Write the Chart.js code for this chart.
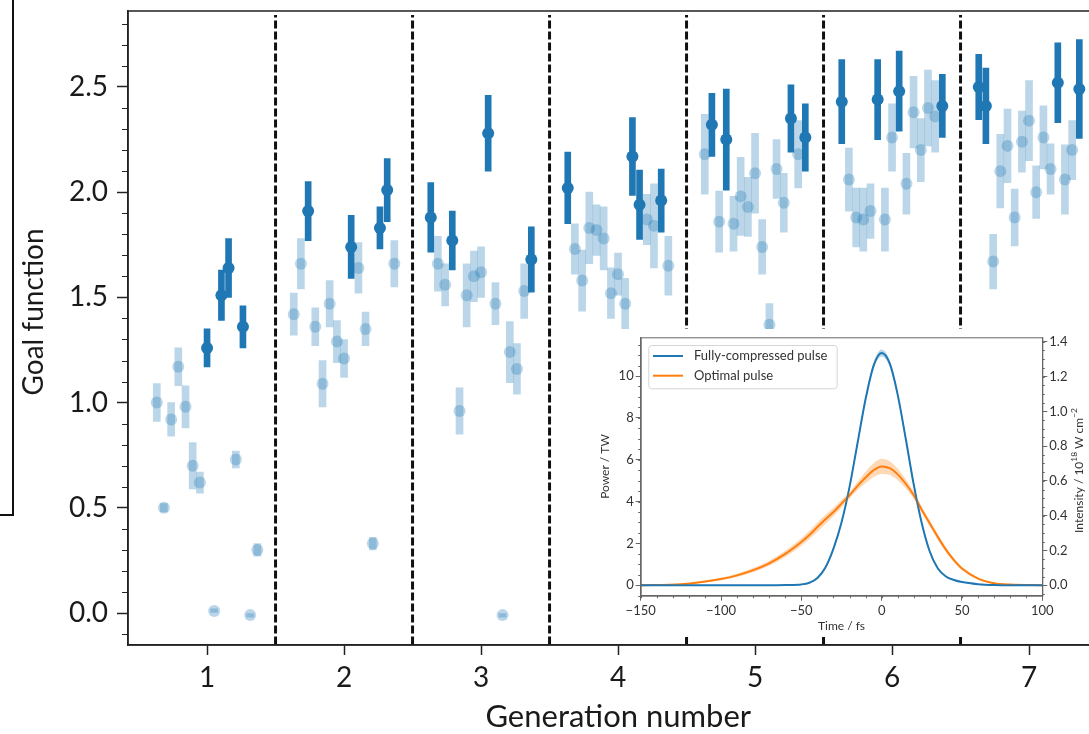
<!DOCTYPE html>
<html>
<head>
<meta charset="utf-8">
<title>Goal function per generation</title>
<script src="https://cdn.jsdelivr.net/npm/chart.js@4"></script>
<style>
  html, body { margin: 0; padding: 0; background: #fff; overflow: hidden; }
  #wrap { position: relative; width: 1089px; height: 734px; overflow: hidden; }
  #main { position: absolute; left: 0; top: 0; }
  #inset { position: absolute; left: 590px; top: 329px; background: #fff; }
  .frag-v { position: absolute; left: 12px; top: 0; width: 2px; height: 516px; background: #111; }
  .frag-h { position: absolute; left: 0; top: 514px; width: 14px; height: 2px; background: #111; }
</style>
</head>
<body>
<div id="wrap">
  <div class="frag-v"></div>
  <div class="frag-h"></div>
  <canvas id="main" width="1120" height="734"></canvas>
  <canvas id="inset" width="499" height="308"></canvas>
</div>
<script>
const BLUE = "#1f77b4";
const ORANGE = "#ff7f0e";
const LIGHT = "rgba(31,119,180,0.3)";
const TEXT = "#1a1a1a";

// main panel
const GENERATIONS = [1, 2, 3, 4, 5, 6, 7];
const OFFSETS = [-0.367, -0.315, -0.262, -0.21, -0.157, -0.105, -0.052, 0, 0.052, 0.105, 0.157, 0.21, 0.262, 0.315, 0.367];
const DIVIDERS = [1.5, 2.5, 3.5, 4.5, 5.5, 6.5];
const X_TICKS = [1, 2, 3, 4, 5, 6, 7];
const Y_TICKS = [0, 0.5, 1, 1.5, 2, 2.5];

const GOAL_G1 = [1.00, 0.50, 0.92, 1.17, 0.98, 0.70, 0.62, 1.26, 0.01, 1.51, 1.64, 0.73, 1.36, -0.01, 0.30];
const GOAL_G2 = [1.42, 1.66, 1.91, 1.36, 1.09, 1.47, 1.29, 1.21, 1.74, 1.64, 1.35, 0.33, 1.83, 2.01, 1.66];
const GOAL_G3 = [1.88, 1.66, 1.56, 1.77, 0.96, 1.51, 1.60, 1.62, 2.28, 1.47, -0.01, 1.24, 1.16, 1.53, 1.68];
const GOAL_G4 = [2.02, 1.73, 1.58, 1.83, 1.82, 1.78, 1.52, 1.61, 1.47, 2.17, 1.94, 1.87, 1.84, 1.96, 1.65];
const GOAL_G5 = [2.18, 2.32, 1.86, 2.25, 1.85, 1.98, 1.93, 2.09, 1.74, 1.37, 2.11, 1.95, 2.35, 2.18, 2.26];
const GOAL_G6 = [2.43, 2.06, 1.88, 1.87, 1.91, 2.44, 1.87, 2.26, 2.48, 2.04, 2.38, 2.20, 2.40, 2.36, 2.41];
const GOAL_G7 = [2.50, 2.41, 1.67, 2.10, 2.22, 1.88, 2.24, 2.34, 2.00, 2.26, 2.11, 2.52, 2.06, 2.20, 2.49];

const ERR_G1 = [0.09, 0.02, 0.08, 0.09, 0.10, 0.11, 0.05, 0.09, 0.01, 0.12, 0.14, 0.04, 0.10, 0.01, 0.03];
const ERR_G2 = [0.10, 0.12, 0.14, 0.09, 0.11, 0.11, 0.10, 0.09, 0.15, 0.12, 0.08, 0.03, 0.10, 0.15, 0.11];
const ERR_G3 = [0.165, 0.13, 0.10, 0.14, 0.11, 0.15, 0.12, 0.12, 0.18, 0.10, 0.01, 0.145, 0.12, 0.13, 0.155];
const ERR_G4 = [0.17, 0.12, 0.145, 0.17, 0.12, 0.15, 0.12, 0.10, 0.12, 0.185, 0.165, 0.12, 0.20, 0.15, 0.14];
const ERR_G5 = [0.19, 0.15, 0.145, 0.24, 0.13, 0.185, 0.14, 0.19, 0.13, 0.10, 0.14, 0.14, 0.16, 0.16, 0.16];
const ERR_G6 = [0.20, 0.15, 0.14, 0.15, 0.13, 0.19, 0.15, 0.16, 0.19, 0.145, 0.17, 0.15, 0.18, 0.17, 0.15];
const ERR_G7 = [0.155, 0.18, 0.13, 0.175, 0.175, 0.135, 0.145, 0.19, 0.125, 0.15, 0.12, 0.19, 0.165, 0.14, 0.235];

// individuals drawn in the dark colour (best of each generation)
const BEST_G1 = [7, 9, 10, 12];
const BEST_G2 = [2, 8, 12, 13];
const BEST_G3 = [0, 3, 8, 14];
const BEST_G4 = [0, 9, 10, 13];
const BEST_G5 = [1, 3, 12, 14];
const BEST_G6 = [0, 5, 8, 14];
const BEST_G7 = [0, 1, 11, 14];

const GOAL = [GOAL_G1, GOAL_G2, GOAL_G3, GOAL_G4, GOAL_G5, GOAL_G6, GOAL_G7];
const ERR = [ERR_G1, ERR_G2, ERR_G3, ERR_G4, ERR_G5, ERR_G6, ERR_G7];
const BEST = [BEST_G1, BEST_G2, BEST_G3, BEST_G4, BEST_G5, BEST_G6, BEST_G7];

// inset panel
const TIME = [-150, -125, -100, -90, -80, -70, -60, -50, -45, -40, -35, -30, -25, -20, -15, -10, -5, 0, 5, 10, 15, 20, 25, 30, 35, 40, 45, 50, 60, 70, 80, 100];
const POWER_FULL = [0, 0, 0, 0, 0, 0, 0.01, 0.04, 0.12, 0.35, 0.85, 1.75, 3.0, 4.7, 6.8, 8.9, 10.5, 11.1, 10.6, 9.1, 7.0, 4.8, 2.95, 1.6, 0.8, 0.42, 0.25, 0.15, 0.05, 0.01, 0, 0];
const POWER_FULL_ERR = [0, 0, 0, 0, 0, 0, 0, 0.01, 0.02, 0.03, 0.05, 0.08, 0.1, 0.12, 0.13, 0.15, 0.16, 0.17, 0.16, 0.15, 0.13, 0.12, 0.1, 0.08, 0.05, 0.03, 0.02, 0.02, 0.01, 0, 0, 0];
const POWER_OPT = [0, 0.05, 0.3, 0.47, 0.72, 1.05, 1.5, 2.07, 2.4, 2.78, 3.15, 3.5, 3.9, 4.3, 4.75, 5.15, 5.5, 5.68, 5.6, 5.3, 4.85, 4.3, 3.6, 2.95, 2.3, 1.7, 1.2, 0.8, 0.32, 0.1, 0.03, 0];
const POWER_OPT_ERR = [0, 0.02, 0.06, 0.08, 0.1, 0.12, 0.15, 0.18, 0.2, 0.22, 0.22, 0.2, 0.18, 0.15, 0.2, 0.28, 0.33, 0.36, 0.33, 0.28, 0.22, 0.18, 0.15, 0.15, 0.14, 0.12, 0.1, 0.08, 0.05, 0.03, 0.01, 0];
const TIME_TICKS = [-150, -100, -50, 0, 50, 100];
const POWER_TICKS = [0, 2, 4, 6, 8, 10];
const INTENSITY_TICKS = [0, 0.2, 0.4, 0.6, 0.8, 1.0, 1.2, 1.4];
const TW_TO_INTENSITY = 0.1203; // 1 TW on the left axis = 0.1203 x 10^18 W cm^-2 on the right

Chart.defaults.font.family = "Lato, 'Open Sans', sans-serif";
Chart.defaults.color = TEXT;

// ---------- main chart ----------
const lightBars = [], darkBars = [], lightPts = [], darkPts = [];
GENERATIONS.forEach((g, gi) => {
  GOAL[gi].forEach((v, i) => {
    const x = g + OFFSETS[i];
    const e = ERR[gi][i];
    const best = BEST[gi].includes(i);
    (best ? darkBars : lightBars).push({ x, y: [v - e, v + e] });
    (best ? darkPts : lightPts).push({ x, y: v });
  });
});

const dividerSets = DIVIDERS.map((d) => ({
  type: "line",
  data: [{ x: d, y: -0.15 }, { x: d, y: 2.842 }],
  showLine: true,
  borderColor: "#111",
  borderWidth: 3,
  borderDash: [8, 3],
  pointRadius: 0,
  order: 5,
}));

const mainFrame = {
  id: "mainFrame",
  afterDraw(chart) {
    const { ctx, chartArea: ca, scales: { y } } = chart;
    ctx.save();
    ctx.strokeStyle = "#222";
    ctx.lineWidth = 1.5;
    ctx.strokeRect(ca.left, ca.top, ca.right - ca.left, ca.bottom - ca.top);
    // minor y ticks
    ctx.lineWidth = 1.2;
    ctx.beginPath();
    for (let k = -1; k <= 28; k++) {
      if (k % 5 === 0) continue;
      const py = Math.round(y.getPixelForValue(k / 10)) + 0.5;
      ctx.moveTo(ca.left - 6, py);
      ctx.lineTo(ca.left, py);
    }
    ctx.stroke();
    // y title
    ctx.translate(34, (ca.top + ca.bottom) / 2 - 16);
    ctx.rotate(-Math.PI / 2);
    ctx.font = "28px Lato";
    ctx.fillStyle = TEXT;
    ctx.textAlign = "center";
    ctx.textBaseline = "middle";
    ctx.fillText("Goal function", 0, 0);
    ctx.restore();
  },
};

new Chart(document.getElementById("main"), {
  type: "scatter",
  data: {
    datasets: [
      ...dividerSets,
      { type: "bar", data: lightBars, backgroundColor: LIGHT, barThickness: 7, stack: "err", order: 4 },
      { data: lightPts, backgroundColor: LIGHT, pointRadius: 6, pointBorderWidth: 0, borderWidth: 0, order: 3 },
      { type: "bar", data: darkBars, backgroundColor: BLUE, barThickness: 6, stack: "err", order: 2 },
      { data: darkPts, backgroundColor: BLUE, pointRadius: 6, pointBorderWidth: 0, borderWidth: 0, order: 1 },
    ],
  },
  options: {
    responsive: false,
    animation: false,
    events: [],
    layout: { padding: { left: 0, top: 11, right: 11.5, bottom: 0 } },
    plugins: { legend: { display: false }, tooltip: { enabled: false } },
    scales: {
      x: {
        type: "linear",
        min: 0.423,
        max: 7.58,
        offset: false,
        afterBuildTicks: (s) => { s.ticks = X_TICKS.map((v) => ({ value: v })); },
        afterFit: (s) => { s.height = 89; s.paddingLeft = 0; s.paddingRight = 0; },
        grid: { drawOnChartArea: false, offset: false, tickLength: 10, tickWidth: 1.5, tickColor: "#222" },
        border: { color: "#222", width: 1.5 },
        ticks: { font: { size: 28 }, color: TEXT, padding: 6, maxRotation: 0, autoSkip: false },
        title: { display: true, text: "Generation number", font: { size: 31 }, color: TEXT, padding: { top: 0, bottom: -2 } },
      },
      y: {
        type: "linear",
        min: -0.152,
        max: 2.861,
        afterBuildTicks: (s) => { s.ticks = Y_TICKS.map((v) => ({ value: v })); },
        afterFit: (s) => { s.width = 128; s.paddingTop = 0; s.paddingBottom = 0; },
        grid: { drawOnChartArea: false, tickLength: 11, tickWidth: 1.5, tickColor: "#222" },
        border: { color: "#222", width: 1.5 },
        ticks: { font: { size: 28 }, color: TEXT, padding: 9, callback: (v) => v.toFixed(1) },
      },
    },
  },
  plugins: [mainFrame],
});

// ---------- inset chart ----------
const curve = (vals, errs, sign) => TIME.map((t, i) => ({ x: t, y: vals[i] + sign * (errs ? errs[i] : 0) }));
const thinLine = { pointRadius: 0, borderWidth: 0, cubicInterpolationMode: "monotone" };

function drawSupText(ctx, parts, size) {
  let w = 0;
  parts.forEach((p) => {
    ctx.font = (p.sup ? size * 0.7 : size) + "px Lato";
    p.w = ctx.measureText(p.t).width;
    w += p.w;
  });
  let x = -w / 2;
  parts.forEach((p) => {
    ctx.font = (p.sup ? size * 0.7 : size) + "px Lato";
    ctx.fillText(p.t, x, p.sup ? -size * 0.4 : 0);
    x += p.w;
  });
}

const insetDecor = {
  id: "insetDecor",
  afterDraw(chart) {
    const { ctx, chartArea: ca, scales: { x, y, y2 } } = chart;
    ctx.save();
    ctx.strokeStyle = "#666";
    ctx.lineWidth = 1;
    ctx.strokeRect(ca.left + 0.5, ca.top + 0.5, ca.right - ca.left, ca.bottom - ca.top);
    // minor ticks
    ctx.beginPath();
    for (let t = -150; t <= 100; t += 10) {
      const px = Math.round(x.getPixelForValue(t)) + 0.5;
      ctx.moveTo(px, ca.bottom);
      ctx.lineTo(px, ca.bottom + 2.5);
    }
    for (let p = -0.5; p <= 11.5; p += 0.5) {
      const py = Math.round(y.getPixelForValue(p)) + 0.5;
      ctx.moveTo(ca.left - 2.5, py);
      ctx.lineTo(ca.left, py);
    }
    for (let k = -1; k <= 28; k++) {
      const py = Math.round(y2.getPixelForValue(k * 0.05)) + 0.5;
      ctx.moveTo(ca.right, py);
      ctx.lineTo(ca.right + 2.5, py);
    }
    ctx.stroke();

    // legend
    const lx = ca.left + 7.6, ly = ca.top + 7.7, lw = 188.4, lh = 43.3;
    ctx.beginPath();
    ctx.roundRect(lx + 0.5, ly + 0.5, lw, lh, 3);
    ctx.fillStyle = "rgba(255,255,255,0.8)";
    ctx.fill();
    ctx.strokeStyle = "#d5d5d5";
    ctx.stroke();
    const items = chart.data.datasets.filter((d) => d.label);
    ctx.font = "13px Lato";
    ctx.textBaseline = "middle";
    ctx.textAlign = "left";
    items.forEach((d, i) => {
      const ry = ca.top + 18.7 + i * 19.7;
      ctx.strokeStyle = d.borderColor;
      ctx.lineWidth = 2;
      ctx.beginPath();
      ctx.moveTo(ca.left + 12.3, ry);
      ctx.lineTo(ca.left + 42.3, ry);
      ctx.stroke();
      ctx.fillStyle = "#333";
      ctx.fillText(d.label, ca.left + 53.3, ry);
    });

    // right axis title
    ctx.translate(y2.right - 10, (ca.top + ca.bottom) / 2 + 4);
    ctx.rotate(-Math.PI / 2);
    ctx.fillStyle = "#333";
    ctx.textAlign = "left";
    ctx.textBaseline = "middle";
    drawSupText(ctx, [{ t: "Intensity / 10" }, { t: "18", sup: true }, { t: " W cm" }, { t: "\u22122", sup: true }], 12);
    ctx.restore();
  },
};

const insetTicks = { font: { size: 13 }, color: "#333", padding: 2 };
const insetGrid = { drawOnChartArea: false, tickLength: 5, tickColor: "#666" };

new Chart(document.getElementById("inset"), {
  type: "line",
  data: {
    datasets: [
      { ...thinLine, data: curve(POWER_FULL, POWER_FULL_ERR, 1), fill: "+1", backgroundColor: "rgba(31,119,180,0.3)" },
      { ...thinLine, data: curve(POWER_FULL, POWER_FULL_ERR, -1), fill: false },
      { ...thinLine, data: curve(POWER_OPT, POWER_OPT_ERR, 1), fill: "+1", backgroundColor: "rgba(255,127,14,0.3)" },
      { ...thinLine, data: curve(POWER_OPT, POWER_OPT_ERR, -1), fill: false },
      { label: "Fully-compressed pulse", data: curve(POWER_FULL, null, 0), borderColor: BLUE, borderWidth: 2, pointRadius: 0, fill: false, cubicInterpolationMode: "monotone" },
      { label: "Optimal pulse", data: curve(POWER_OPT, null, 0), borderColor: ORANGE, borderWidth: 2, pointRadius: 0, fill: false, cubicInterpolationMode: "monotone" },
    ],
  },
  options: {
    responsive: false,
    animation: false,
    events: [],
    layout: { padding: { left: 0, top: 8.3, right: 0, bottom: 0 } },
    plugins: { legend: { display: false }, tooltip: { enabled: false } },
    scales: {
      x: {
        type: "linear",
        min: -150,
        max: 100,
        afterBuildTicks: (s) => { s.ticks = TIME_TICKS.map((v) => ({ value: v })); },
        afterFit: (s) => { s.height = 41.3; s.paddingLeft = 0; s.paddingRight = 0; },
        grid: insetGrid,
        border: { color: "#666" },
        ticks: { ...insetTicks, maxRotation: 0, callback: (v) => String(v).replace("-", "\u2212") },
        title: { display: true, text: "Time / fs", font: { size: 12 }, color: "#333", padding: { top: 0, bottom: 4 } },
      },
      y: {
        position: "left",
        min: -0.5,
        max: 11.85,
        afterBuildTicks: (s) => { s.ticks = POWER_TICKS.map((v) => ({ value: v })); },
        afterFit: (s) => { s.width = 50.7; s.paddingTop = 0; s.paddingBottom = 0; },
        grid: insetGrid,
        border: { color: "#666" },
        ticks: insetTicks,
        title: { display: true, text: "Power / TW", font: { size: 12 }, color: "#333", padding: { top: 8, bottom: 0 } },
      },
      y2: {
        position: "right",
        min: -0.5 * TW_TO_INTENSITY,
        max: 11.85 * TW_TO_INTENSITY,
        afterBuildTicks: (s) => { s.ticks = INTENSITY_TICKS.map((v) => ({ value: v })); },
        afterFit: (s) => { s.width = 46.7; s.paddingTop = 0; s.paddingBottom = 0; },
        grid: insetGrid,
        border: { color: "#666" },
        ticks: { ...insetTicks, callback: (v) => v.toFixed(1) },
      },
    },
  },
  plugins: [insetDecor],
});
</script>
</body>
</html>
